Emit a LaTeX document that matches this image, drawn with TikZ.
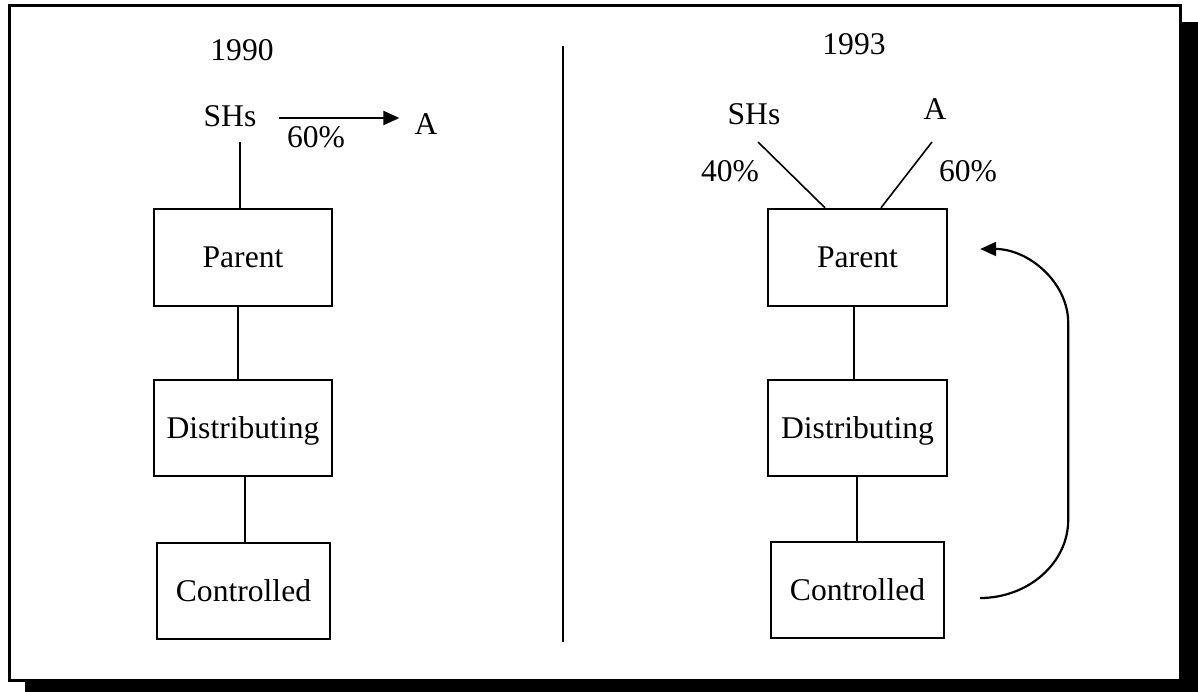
\documentclass[tikz,border=0pt]{standalone}
\usepackage{fontspec}
\setmainfont{Liberation Serif}
\usetikzlibrary{arrows.meta}

\begin{document}
\begin{tikzpicture}[x=1pt,y=-1pt,
  every node/.style={font=\fontsize{31.6}{38}\selectfont},
  lbl/.style={anchor=base,inner sep=0pt},
  entity/.style={draw,line width=2.4pt,inner sep=0pt,text height=21pt,text depth=0pt},
  link/.style={line width=1.6pt},
  flow/.style={line width=2.2pt,-{Triangle[length=16pt,width=14pt]}}]
  \useasboundingbox (0,0) rectangle (1198,692);

  % drop shadow and frame
  \fill[black] (25,22) rectangle (1198,692);
  \filldraw[fill=white,draw=black,line width=3pt] (9,6) rectangle (1180,680);

  % divider between the two years
  \draw[line width=2.2pt] (563,46) coordinate (divtop) -- (563,642) coordinate (divbot);

  % ---------- 1990 ----------
  \node[lbl] (y1990) at (242,61) {1990};
  \node[lbl] (lSH) at (230,127) {SHs};
  \node[lbl] (lA) at (426,135) {A};
  \node[lbl] (lpct) at (316,148) {60\%};
  \node[entity,minimum width=178pt,minimum height=97pt] (lP) at (243,257.5) {Parent};
  \node[entity,minimum width=178pt,minimum height=96pt] (lD) at (243,428) {Distributing};
  \node[entity,minimum width=173pt,minimum height=96pt] (lC) at (243.5,591) {Controlled};

  \draw[flow] ([xshift=22pt]lSH.base east |- 0,118) -- ([xshift=-15pt]lA.base west |- 0,118);
  \coordinate (lSHfoot) at (240,142);
  \draw[link] (lSHfoot) -- (lSHfoot |- lP.north);
  \draw[link] (238,0 |- lP.south) -- (238,0 |- lD.north);
  \draw[line width=2.2pt] (245,0 |- lD.south) -- (245,0 |- lC.north);

  % ---------- 1993 ----------
  \node[lbl] (y1993) at (854,55) {1993};
  \node[lbl] (rSH) at (754,125) {SHs};
  \node[lbl] (rA) at (935,120) {A};
  \node[lbl] (rpctS) at (730,182) {40\%};
  \node[lbl] (rpctA) at (968,182) {60\%};
  \node[entity,minimum width=179pt,minimum height=97pt] (rP) at (857.5,257.5) {Parent};
  \node[entity,minimum width=179pt,minimum height=96pt] (rD) at (857.5,428) {Distributing};
  \node[entity,minimum width=173pt,minimum height=96pt] (rC) at (857.5,590) {Controlled};

  \coordinate (rSHfoot) at (758,142);
  \coordinate (rAfoot) at (932,142);
  \draw[link] (rSHfoot) -- (825,0 |- rP.north);
  \draw[link] (rAfoot) -- (881,0 |- rP.north);
  \draw[link] (854,0 |- rP.south) -- (854,0 |- rD.north);
  \draw[line width=2.2pt] (857,0 |- rD.south) -- (857,0 |- rC.north);

  % control loop from Controlled back up to Parent
  \draw[flow] ([shift={(35,8)}]rC.east)
     .. controls +(48,0) and +(0,43) .. ++(88,-78)
     -- ++(0,-197)
     .. controls +(0,-41) and +(48,0) .. ([shift={(32,-8.5)}]rP.east);
\end{tikzpicture}
\end{document}
